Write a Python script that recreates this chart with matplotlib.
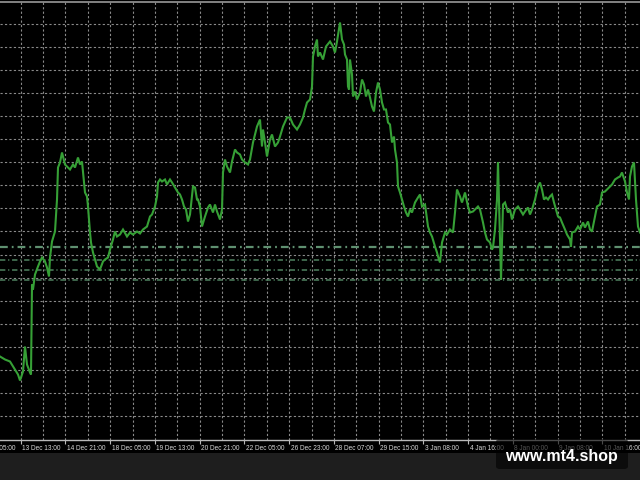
import matplotlib
matplotlib.use('Agg')
import matplotlib.pyplot as plt
from matplotlib.patches import Rectangle, FancyBboxPatch
import numpy as np

# ---- data ----
bar = [0, 5, 10, 15, 18, 20, 23, 25, 27, 30, 31, 32, 33, 35, 38, 40, 42, 45, 47, 49,
       50, 52, 55, 57, 58, 60, 62, 65, 68, 70, 73, 75, 78, 80, 82, 85, 87, 88, 90, 91,
       93, 95, 97, 100, 103, 105, 108, 110, 113, 115, 117, 120, 123, 127, 130, 133, 137, 140, 143, 147,
       150, 152, 155, 157, 158, 160, 162, 165, 167, 170, 172, 175, 178, 180, 182, 184, 186, 188, 190, 193,
       195, 197, 198, 200, 202, 205, 208, 210, 213, 215, 217, 220, 222, 223, 225, 227, 230, 232, 235, 237,
       240, 242, 245, 248, 250, 253, 257, 260, 262, 263, 265, 267, 270, 272, 275, 278, 280, 283, 287, 290,
       293, 297, 300, 303, 305, 307, 310, 312, 313, 315, 317, 318, 320, 323, 326, 330, 333, 335, 337, 340,
       342, 344, 345, 347, 348, 349, 350, 352, 353, 355, 357, 360, 362, 364, 366, 368, 370, 372, 374, 376,
       378, 380, 382, 384, 386, 388, 390, 392, 394, 395, 397, 398, 400, 402, 404, 406, 408, 410, 412, 415,
       418, 420, 422, 425, 428, 430, 432, 435, 437, 438, 440, 442, 445, 447, 450, 453, 455, 457, 460, 462,
       465, 468, 470, 473, 475, 478, 480, 483, 485, 487, 490, 492, 493, 495, 497, 498, 499, 500, 501, 503,
       505, 508, 510, 512, 515, 518, 520, 523, 525, 528, 530, 532, 535, 538, 540, 542, 544, 546, 548, 550,
       552, 554, 556, 558, 560, 562, 565, 567, 570, 571, 572, 575, 578, 580, 583, 585, 588, 590, 592, 595,
       597, 600, 602, 605, 607, 610, 612, 615, 618, 620, 622, 625, 627, 629, 630, 632, 634, 636, 638, 640]

price = [83, 80, 78, 70, 65, 59, 68, 93, 75, 67, 65, 155, 150, 165, 173, 178, 182, 178, 172, 163,
         182, 198, 208, 240, 272, 277, 287, 275, 272, 270, 275, 272, 282, 275, 278, 247, 243, 233, 207, 197,
         187, 180, 173, 170, 178, 180, 182, 190, 200, 208, 203, 205, 210, 203, 207, 205, 208, 206, 210, 213,
         223, 225, 233, 243, 257, 260, 258, 260, 255, 260, 257, 252, 247, 245, 240, 233, 230, 218, 225, 253,
         252, 240, 240, 233, 213, 223, 232, 235, 227, 235, 228, 220, 230, 267, 280, 273, 267, 278, 290, 287,
         285, 280, 277, 275, 280, 297, 313, 320, 293, 310, 297, 283, 300, 305, 293, 297, 303, 313, 322, 322,
         315, 310, 315, 322, 330, 337, 340, 353, 383, 393, 400, 383, 387, 380, 393, 398, 393, 387, 398, 417,
         400, 395, 385, 380, 353, 350, 380, 365, 343, 348, 340, 347, 360, 355, 343, 350, 342, 333, 328, 347,
         357, 350, 337, 330, 330, 317, 315, 297, 303, 290, 277, 253, 247, 240, 233, 227, 223, 230, 227, 237,
         242, 245, 233, 235, 213, 207, 203, 193, 187, 183, 177, 197, 207, 205, 210, 207, 227, 250, 243, 237,
         247, 233, 227, 228, 230, 233, 230, 217, 207, 200, 197, 190, 192, 210, 240, 277, 240, 200, 160, 235,
         237, 227, 230, 220, 230, 233, 230, 225, 228, 232, 225, 230, 240, 253, 257, 250, 240, 242, 240, 243,
         245, 237, 230, 223, 222, 217, 210, 205, 200, 193, 207, 208, 213, 210, 217, 212, 218, 210, 208, 223,
         233, 235, 247, 248, 250, 253, 255, 260, 262, 263, 267, 258, 247, 240, 263, 273, 277, 240, 213, 207]

levels = [193, 179.5, 169.5, 160]

tick_labels = ["12 Dec 05:00", "13 Dec 13:00", "14 Dec 21:00", "18 Dec 05:00", "19 Dec 13:00",
               "20 Dec 21:00", "22 Dec 05:00", "26 Dec 23:00", "28 Dec 07:00", "29 Dec 15:00",
               "3 Jan 08:00", "4 Jan 16:00", "8 Jan 00:00", "9 Jan 08:00", "10 Jan 16:00"]

# ---- figure ----
W, H = 640, 480
fig = plt.figure(figsize=(6.4, 4.8), dpi=100, facecolor='black')
fig.patches.append(Rectangle((0, 0), 1, 27 / H, transform=fig.transFigure,
                             facecolor='#1e1e1e', edgecolor='none', zorder=0))

ax = fig.add_axes([0, 40.5 / H, 1, 437.5 / H])
ax.set_facecolor('black')
ax.set_xlim(0, 640)
ax.set_ylim(0, 437.5)

grid_x = [20.7 + 22.37 * k for k in range(29)]
grid_y = [416 - 23.1 * k for k in range(18)]
for gx in grid_x:
    ax.axvline(gx, color='#8a8a8a', lw=0.8, ls=(0, (2, 2)), zorder=1)
for gy in grid_y:
    ax.axhline(gy, color='#8a8a8a', lw=0.8, ls=(0, (2, 2)), zorder=1)

for i, lv in enumerate(levels):
    ax.axhline(lv, color='#4f8260' if i else '#5f9070', lw=1.6 if i == 0 else 1.1,
               ls=(0, (3.5, 1.8, 0.8, 1.8)), zorder=2)

ax.plot(bar, price, color='#36a036', lw=1.5, zorder=3, solid_joinstyle='miter')

for s in ['left', 'right']:
    ax.spines[s].set_visible(False)
ax.spines['bottom'].set_color('#b8b8b8')
ax.spines['bottom'].set_linewidth(1.0)
ax.spines['top'].set_color('#8c8c8c')
ax.spines['top'].set_linewidth(1.3)
ax.set_yticks([])

label_x = [20.7 - 44.74 + 44.74 * k for k in range(len(tick_labels))]
ax.set_xticks([x for x in label_x if x > 0])
ax.tick_params(axis='x', direction='out', length=3, width=0.8, color='#b8b8b8', labelbottom=False)
for lx, lab in zip(label_x, tick_labels):
    ax.text(lx + 1.5, -8.5, lab, ha='left', va='center', fontsize=4.7,
            family='Liberation Sans', color='#d8d8d8', clip_on=False)

# watermark
box = FancyBboxPatch((496 / W, (H - 469) / H), 132 / W, 30 / H,
                     boxstyle='round,pad=0,rounding_size=0.006', transform=fig.transFigure,
                     facecolor='black', alpha=0.6, edgecolor='none', zorder=5)
fig.add_artist(box)
fig.text(561 / W, (H - 457) / H, 'www.mt4.shop', ha='center', va='center', color='white',
         fontsize=11.5, fontweight='bold', family='Liberation Sans', zorder=6)

fig.savefig('out.png', dpi=100, facecolor='black')
